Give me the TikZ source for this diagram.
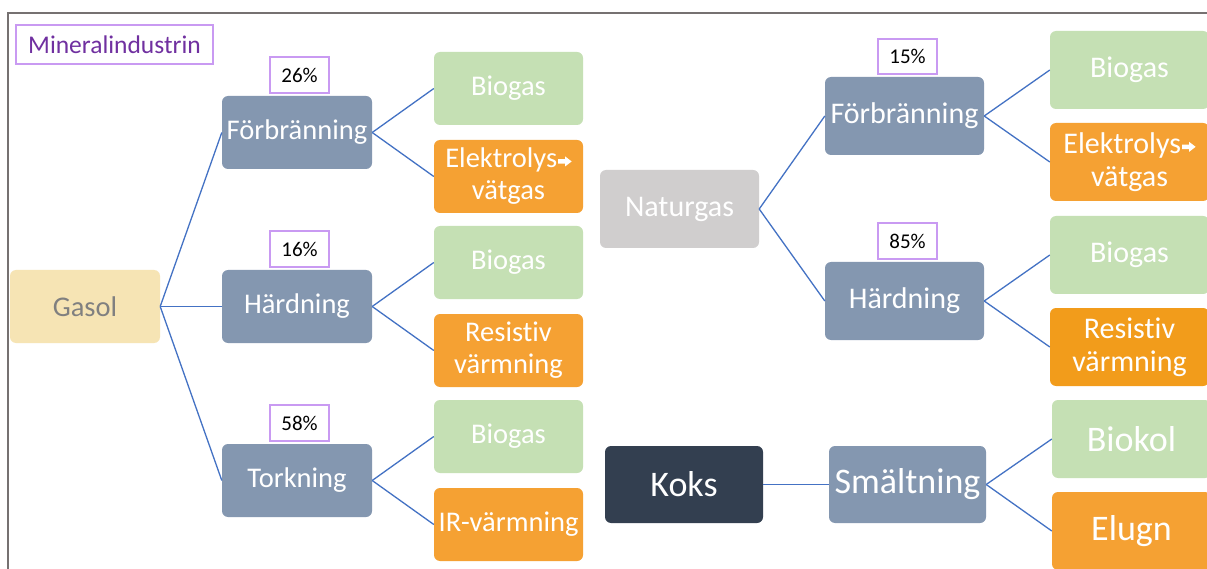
\documentclass[tikz,border=0pt]{standalone}
\usepackage{fontspec}
\setmainfont[Ligatures={NoCommon}]{Carlito}
\definecolor{slate}{HTML}{8497B0}
\definecolor{leaf}{HTML}{C5E0B4}
\definecolor{amber}{HTML}{F5A133}
\definecolor{amberdeep}{HTML}{F29C1B}
\definecolor{coal}{HTML}{333F50}
\definecolor{ash}{HTML}{D0CECE}
\definecolor{sand}{HTML}{F6E4B4}
\definecolor{lilac}{HTML}{C99AF2}
\definecolor{plum}{HTML}{7030A0}
\definecolor{wire}{HTML}{4472C4}
\definecolor{frame}{HTML}{767171}
\tikzset{
  card/.style={rounded corners=6pt, inner sep=0pt, align=center, text=white, draw=none},
  small/.style={card, minimum width=150pt, minimum height=73pt, font=\fontsize{28.5}{32}\selectfont},
  large/.style={card, minimum width=159pt, minimum height=78pt, font=\fontsize{30}{33}\selectfont},
  huge/.style={card, minimum width=158pt, minimum height=77pt, font=\fontsize{36}{38}\selectfont},
  pct/.style={draw=lilac, line width=1.3pt, fill=white, minimum width=59pt, minimum height=36pt, inner sep=0pt, font=\fontsize{21}{23}\selectfont, text=black},
  link/.style={draw=wire, line width=1.3pt},
}
% small white block arrow set after a word
\newcommand{\rarr}{\hspace{1pt}\tikz[x=1pt, y=1pt, baseline=0pt, sharp corners]{\fill[white] (0,4.2) -- (7,4.2) -- (7,1.5) -- (13.5,6.5) -- (7,11.5) -- (7,8.8) -- (0,8.8) -- cycle;}}
\begin{document}
\begin{tikzpicture}[x=1pt, y=-1pt]
\useasboundingbox (0,0) rectangle (1207,569);
\clip (0,0) rectangle (1207,569);
\fill[white] (0,0) rectangle (1207,569);
% outer frame
\draw[frame, line width=2pt] (8,600) -- (8,13) -- (1250,13);

% title tag
\node[draw=lilac, line width=1.3pt, minimum width=197pt, minimum height=39pt, inner sep=0pt,
      text=plum, font=\fontsize{25.5}{27}\selectfont] (title) at (114.5,44.5) {Mineralindustrin};

% Gasol tree
\node[small, fill=sand, text=black!50] (gasol) at (85,306.5) {Gasol};
\node[small, fill=slate] (forbL) at (297,132.5) {Förbränning};
\node[small, fill=slate] (hardL) at (297,306.5) {Härdning};
\node[small, fill=slate] (tork)  at (297,480.5) {Torkning};
\node[pct] (p26) at (299.5,75) {26\%};
\node[pct] (p16) at (299.5,249) {16\%};
\node[pct] (p58) at (299.5,423) {58\%};

\node[small, minimum width=149pt, fill=leaf]  (bioA) at (508.5,88.5) {Biogas};
\node[small, minimum width=149pt, fill=amber] (elA)  at (508.5,176.5) {Elektrolys\rarr\\vätgas};
\node[small, minimum width=149pt, fill=leaf]  (bioB) at (508.5,262.5) {Biogas};
\node[small, minimum width=149pt, fill=amber] (resA) at (508.5,350.5) {Resistiv\\värmning};
\node[small, minimum width=149pt, fill=leaf]  (bioC) at (508.5,436.5) {Biogas};
\node[small, minimum width=149pt, fill=amber] (ir)   at (508.5,524.5) {IR-värmning};

\draw[link] (gasol.east) -- (forbL.west);
\draw[link] (gasol.east) -- (hardL.west);
\draw[link] (gasol.east) -- (tork.west);
\draw[link] (forbL.east) -- (bioA.west);
\draw[link] (forbL.east) -- (elA.west);
\draw[link] (hardL.east) -- (bioB.west);
\draw[link] (hardL.east) -- (resA.west);
\draw[link] (tork.east) -- (bioC.west);
\draw[link] (tork.east) -- (ir.west);

% Naturgas tree
\node[large, fill=ash] (natur) at (679.5,209) {Naturgas};
\node[large, fill=slate] (forbR) at (904.5,116) {Förbränning};
\node[large, fill=slate] (hardR) at (904.5,301) {Härdning};
\node[pct, minimum height=35pt] (p15) at (907.5,56.5) {15\%};
\node[pct] (p85) at (907.5,241) {85\%};

\node[large, fill=leaf]       (bioD) at (1129.5,70)  {Biogas};
\node[large, fill=amber]      (elB)  at (1129.5,162) {Elektrolys\rarr\\vätgas};
\node[large, fill=leaf]       (bioE) at (1129.5,255) {Biogas};
\node[large, fill=amberdeep]  (resB) at (1129.5,347) {Resistiv\\värmning};

\draw[link] (natur.east) -- (forbR.west);
\draw[link] (natur.east) -- (hardR.west);
\draw[link] (forbR.east) -- (bioD.west);
\draw[link] (forbR.east) -- (elB.west);
\draw[link] (hardR.east) -- (bioE.west);
\draw[link] (hardR.east) -- (resB.west);

% Koks tree
\node[huge, fill=coal] (koks) at (684,484.5) {Koks};
\node[huge, minimum width=157pt, fill=slate] (smalt) at (907.5,484.5) {Smältning};
\node[huge, minimum width=159pt, minimum height=78pt, fill=leaf]  (biokol) at (1131.5,439) {Biokol};
\node[huge, minimum width=159pt, minimum height=78pt, fill=amber] (elugn)  at (1131.5,531) {Elugn};

\draw[link] (koks.east) -- (smalt.west);
\draw[link] (smalt.east) -- (biokol.west);
\draw[link] (smalt.east) -- (elugn.west);
\end{tikzpicture}
\end{document}
